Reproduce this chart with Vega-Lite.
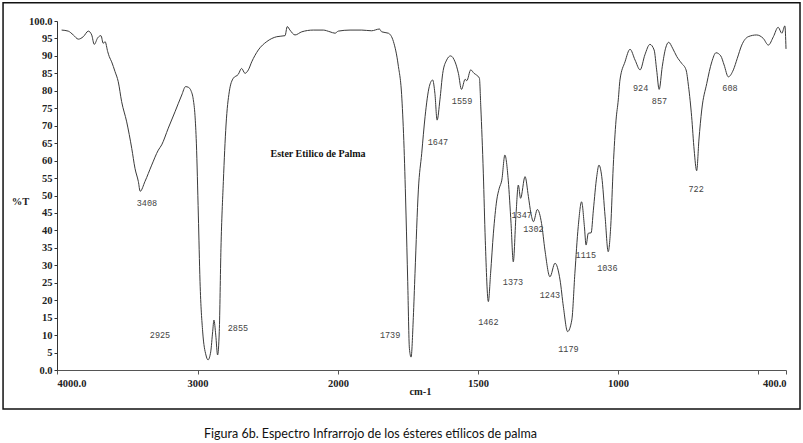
{
  "$schema": "https://vega.github.io/schema/vega-lite/v6.json",
  "width": 729,
  "height": 349,
  "autosize": {"type": "none"},
  "padding": {"left": 57, "top": 21, "right": 17, "bottom": 73},
  "background": "white",
  "config": {"view": {"stroke": null}},
  "title": {
    "text": "Figura 6b. Espectro Infrarrojo de los ésteres etílicos de palma",
    "orient": "bottom",
    "anchor": "middle",
    "frame": "group",
    "dx": -51,
    "offset": 18,
    "font": "Lato",
    "fontSize": 12.5,
    "fontWeight": "normal",
    "color": "#111"
  },
  "datasets": {
    "spectrum": [
      {"wn": 3967, "T": 97.4}, {"wn": 3920, "T": 97.1}, {"wn": 3884, "T": 96.0}, {"wn": 3848, "T": 94.8},
      {"wn": 3813, "T": 95.5}, {"wn": 3777, "T": 97.1}, {"wn": 3753, "T": 96.0}, {"wn": 3735, "T": 93.3},
      {"wn": 3710, "T": 95.2}, {"wn": 3687, "T": 95.8}, {"wn": 3671, "T": 93.6}, {"wn": 3658, "T": 94.1},
      {"wn": 3639, "T": 91.2}, {"wn": 3628, "T": 89.8}, {"wn": 3611, "T": 88.3}, {"wn": 3587, "T": 85.5},
      {"wn": 3564, "T": 82.6}, {"wn": 3540, "T": 76.9}, {"wn": 3504, "T": 71.1}, {"wn": 3468, "T": 63.5},
      {"wn": 3445, "T": 57.8}, {"wn": 3421, "T": 54.0}, {"wn": 3408, "T": 51.2}, {"wn": 3374, "T": 54.0},
      {"wn": 3326, "T": 58.7}, {"wn": 3279, "T": 63.0}, {"wn": 3255, "T": 64.5}, {"wn": 3208, "T": 69.3},
      {"wn": 3160, "T": 74.0}, {"wn": 3112, "T": 78.8}, {"wn": 3085, "T": 81.2}, {"wn": 3065, "T": 81.0},
      {"wn": 3046, "T": 80.0}, {"wn": 3030, "T": 77.5}, {"wn": 3018, "T": 73.0}, {"wn": 3008, "T": 65.0},
      {"wn": 2994, "T": 44.4}, {"wn": 2982, "T": 25.3}, {"wn": 2963, "T": 10.9}, {"wn": 2940, "T": 4.3},
      {"wn": 2925, "T": 2.9}, {"wn": 2906, "T": 5.2}, {"wn": 2892, "T": 11.0}, {"wn": 2883, "T": 14.3},
      {"wn": 2870, "T": 10.0}, {"wn": 2857, "T": 4.3}, {"wn": 2845, "T": 11.0}, {"wn": 2833, "T": 34.9},
      {"wn": 2816, "T": 54.0}, {"wn": 2797, "T": 70.2}, {"wn": 2774, "T": 79.7}, {"wn": 2745, "T": 83.6},
      {"wn": 2710, "T": 84.7}, {"wn": 2686, "T": 86.4}, {"wn": 2662, "T": 85.0}, {"wn": 2638, "T": 86.0},
      {"wn": 2614, "T": 88.3}, {"wn": 2567, "T": 91.7}, {"wn": 2507, "T": 94.1}, {"wn": 2436, "T": 95.5},
      {"wn": 2377, "T": 95.8}, {"wn": 2361, "T": 98.4}, {"wn": 2342, "T": 97.4}, {"wn": 2306, "T": 96.0},
      {"wn": 2258, "T": 96.9}, {"wn": 2176, "T": 97.4}, {"wn": 2105, "T": 97.4}, {"wn": 2057, "T": 96.9},
      {"wn": 2021, "T": 96.5}, {"wn": 1999, "T": 97.1}, {"wn": 1957, "T": 97.4}, {"wn": 1915, "T": 97.4},
      {"wn": 1880, "T": 97.2}, {"wn": 1852, "T": 97.7}, {"wn": 1844, "T": 96.9}, {"wn": 1820, "T": 96.5},
      {"wn": 1802, "T": 94.1}, {"wn": 1785, "T": 87.4}, {"wn": 1772, "T": 77.9}, {"wn": 1764, "T": 63.5},
      {"wn": 1757, "T": 44.4}, {"wn": 1751, "T": 25.3}, {"wn": 1745, "T": 6.2}, {"wn": 1739, "T": 3.7},
      {"wn": 1731, "T": 15.0}, {"wn": 1725, "T": 27.7}, {"wn": 1713, "T": 51.6}, {"wn": 1701, "T": 62.1},
      {"wn": 1689, "T": 72.6}, {"wn": 1674, "T": 81.2}, {"wn": 1662, "T": 83.1}, {"wn": 1654, "T": 79.3},
      {"wn": 1646, "T": 71.6}, {"wn": 1636, "T": 77.4}, {"wn": 1626, "T": 85.0}, {"wn": 1612, "T": 88.8},
      {"wn": 1598, "T": 90.0}, {"wn": 1582, "T": 88.3}, {"wn": 1570, "T": 85.0}, {"wn": 1559, "T": 80.4},
      {"wn": 1546, "T": 83.3}, {"wn": 1540, "T": 82.9}, {"wn": 1526, "T": 86.0}, {"wn": 1514, "T": 85.0},
      {"wn": 1505, "T": 84.5}, {"wn": 1495, "T": 83.6}, {"wn": 1490, "T": 75.4}, {"wn": 1481, "T": 56.4},
      {"wn": 1474, "T": 37.2}, {"wn": 1463, "T": 19.6}, {"wn": 1455, "T": 27.7}, {"wn": 1445, "T": 39.2},
      {"wn": 1433, "T": 48.7}, {"wn": 1424, "T": 52.1}, {"wn": 1415, "T": 54.4}, {"wn": 1404, "T": 61.6},
      {"wn": 1392, "T": 54.4}, {"wn": 1382, "T": 42.0}, {"wn": 1374, "T": 31.0}, {"wn": 1364, "T": 44.9},
      {"wn": 1356, "T": 53.0}, {"wn": 1348, "T": 49.2}, {"wn": 1332, "T": 55.4}, {"wn": 1320, "T": 49.7},
      {"wn": 1311, "T": 44.9}, {"wn": 1302, "T": 42.5}, {"wn": 1288, "T": 46.0}, {"wn": 1273, "T": 42.0},
      {"wn": 1261, "T": 34.4}, {"wn": 1243, "T": 26.7}, {"wn": 1225, "T": 30.6}, {"wn": 1207, "T": 25.8},
      {"wn": 1195, "T": 18.1}, {"wn": 1180, "T": 11.0}, {"wn": 1165, "T": 14.3}, {"wn": 1154, "T": 27.7},
      {"wn": 1142, "T": 41.1}, {"wn": 1130, "T": 48.2}, {"wn": 1120, "T": 41.1}, {"wn": 1114, "T": 35.8},
      {"wn": 1106, "T": 39.2}, {"wn": 1096, "T": 39.3}, {"wn": 1088, "T": 45.8}, {"wn": 1076, "T": 55.4},
      {"wn": 1068, "T": 58.7}, {"wn": 1058, "T": 55.4}, {"wn": 1046, "T": 43.9}, {"wn": 1035, "T": 33.9},
      {"wn": 1026, "T": 41.1}, {"wn": 1017, "T": 58.3}, {"wn": 1007, "T": 71.6}, {"wn": 999, "T": 77.4},
      {"wn": 993, "T": 83.1}, {"wn": 975, "T": 88.3}, {"wn": 957, "T": 91.9}, {"wn": 939, "T": 88.8},
      {"wn": 921, "T": 86.0}, {"wn": 904, "T": 90.3}, {"wn": 886, "T": 93.3}, {"wn": 871, "T": 91.7},
      {"wn": 862, "T": 86.0}, {"wn": 853, "T": 80.4}, {"wn": 842, "T": 86.9}, {"wn": 830, "T": 92.2},
      {"wn": 819, "T": 93.9}, {"wn": 805, "T": 92.2}, {"wn": 790, "T": 89.8}, {"wn": 773, "T": 87.9},
      {"wn": 757, "T": 86.0}, {"wn": 748, "T": 81.2}, {"wn": 737, "T": 72.6}, {"wn": 728, "T": 63.0},
      {"wn": 719, "T": 57.1}, {"wn": 711, "T": 65.9}, {"wn": 701, "T": 74.5}, {"wn": 683, "T": 82.1},
      {"wn": 665, "T": 88.3}, {"wn": 650, "T": 90.9}, {"wn": 633, "T": 90.0}, {"wn": 621, "T": 87.4},
      {"wn": 606, "T": 84.0}, {"wn": 588, "T": 86.0}, {"wn": 574, "T": 89.3}, {"wn": 558, "T": 93.1},
      {"wn": 535, "T": 95.5}, {"wn": 505, "T": 96.0}, {"wn": 481, "T": 95.0}, {"wn": 463, "T": 93.1},
      {"wn": 445, "T": 95.5}, {"wn": 428, "T": 98.2}, {"wn": 415, "T": 96.5}, {"wn": 404, "T": 98.6},
      {"wn": 400, "T": 92.0}
    ],
    "peaks": [
      {"label": "3408", "wn": 3360, "T": 47.9},
      {"label": "2925", "wn": 3267, "T": 10.0},
      {"label": "2855", "wn": 2712, "T": 12.0},
      {"label": "1739", "wn": 1814, "T": 10.0},
      {"label": "1647", "wn": 1643, "T": 65.3},
      {"label": "1559", "wn": 1557, "T": 77.1},
      {"label": "1462", "wn": 1463, "T": 13.8},
      {"label": "1373", "wn": 1375, "T": 25.2},
      {"label": "1347", "wn": 1344, "T": 44.4},
      {"label": "1302", "wn": 1302, "T": 40.4},
      {"label": "1243", "wn": 1243, "T": 21.5},
      {"label": "1179", "wn": 1177, "T": 6.0},
      {"label": "1115", "wn": 1115, "T": 33.0},
      {"label": "1036", "wn": 1038, "T": 29.1},
      {"label": "924", "wn": 919, "T": 80.7},
      {"label": "857", "wn": 852, "T": 77.1},
      {"label": "722", "wn": 721, "T": 51.9},
      {"label": "608", "wn": 600, "T": 80.7}
    ]
  },
  "layer": [
    {
      "data": {"name": "spectrum"},
      "mark": {"type": "line", "color": "#3a3a3a", "strokeWidth": 1, "interpolate": "monotone"},
      "encoding": {
        "x": {
          "field": "wn", "type": "quantitative",
          "scale": {"domain": [4000, 2000, 400], "range": [0, 281, 729], "nice": false, "zero": false},
          "axis": {
            "values": [4000, 3000, 2000, 1500, 1000, 500, 400],
            "format": "d",
            "labelExpr": "datum.value == 4000 ? '4000.0' : datum.value == 400 ? '400.0' : datum.value == 500 ? '' : datum.label",
            "labelFont": "Liberation Serif", "labelFontWeight": "bold", "labelFontSize": 10.5, "labelColor": "#222",
            "labelPadding": 4, "labelOverlap": false,
            "domainColor": "#555", "tickColor": "#555", "tickSize": 4, "grid": false,
            "title": "cm-1", "titleFont": "Liberation Serif", "titleFontWeight": "bold", "titleFontSize": 10.5,
            "titleColor": "#222", "titleX": 363, "titleY": 21, "titleAlign": "center", "titleBaseline": "middle"
          }
        },
        "y": {
          "field": "T", "type": "quantitative",
          "scale": {"domain": [0, 100], "nice": false, "zero": false},
          "axis": {
            "values": [0, 5, 10, 15, 20, 25, 30, 35, 40, 45, 50, 55, 60, 65, 70, 75, 80, 85, 90, 95, 100],
            "format": "d",
            "labelExpr": "datum.value == 100 ? '100.0' : datum.value == 0 ? '0.0' : datum.label",
            "labelFont": "Liberation Serif", "labelFontWeight": "bold", "labelFontSize": 10.5, "labelColor": "#222",
            "labelPadding": 2, "labelOverlap": false,
            "domainColor": "#333", "tickColor": "#333", "tickSize": 3, "grid": false,
            "title": "%T", "titleAngle": 0, "titleFont": "Liberation Serif", "titleFontWeight": "bold", "titleFontSize": 10.5,
            "titleColor": "#222", "titleX": -37, "titleY": 180, "titleAlign": "center", "titleBaseline": "middle"
          }
        }
      }
    },
    {
      "data": {"name": "peaks"},
      "mark": {"type": "text", "font": "Liberation Mono", "fontSize": 8.5, "color": "#444", "align": "center", "baseline": "middle"},
      "encoding": {
        "x": {
          "field": "wn", "type": "quantitative",
          "scale": {"domain": [4000, 2000, 400], "range": [0, 281, 729], "nice": false, "zero": false},
          "axis": {
            "values": [4000, 3000, 2000, 1500, 1000, 500, 400],
            "format": "d",
            "labelExpr": "datum.value == 4000 ? '4000.0' : datum.value == 400 ? '400.0' : datum.value == 500 ? '' : datum.label",
            "labelFont": "Liberation Serif", "labelFontWeight": "bold", "labelFontSize": 10.5, "labelColor": "#222",
            "labelPadding": 4, "labelOverlap": false,
            "domainColor": "#555", "tickColor": "#555", "tickSize": 4, "grid": false,
            "title": "cm-1", "titleFont": "Liberation Serif", "titleFontWeight": "bold", "titleFontSize": 10.5,
            "titleColor": "#222", "titleX": 363, "titleY": 21, "titleAlign": "center", "titleBaseline": "middle"
          }
        },
        "y": {
          "field": "T", "type": "quantitative",
          "scale": {"domain": [0, 100], "nice": false, "zero": false},
          "axis": {
            "values": [0, 5, 10, 15, 20, 25, 30, 35, 40, 45, 50, 55, 60, 65, 70, 75, 80, 85, 90, 95, 100],
            "format": "d",
            "labelExpr": "datum.value == 100 ? '100.0' : datum.value == 0 ? '0.0' : datum.label",
            "labelFont": "Liberation Serif", "labelFontWeight": "bold", "labelFontSize": 10.5, "labelColor": "#222",
            "labelPadding": 2, "labelOverlap": false,
            "domainColor": "#333", "tickColor": "#333", "tickSize": 3, "grid": false,
            "title": "%T", "titleAngle": 0, "titleFont": "Liberation Serif", "titleFontWeight": "bold", "titleFontSize": 10.5,
            "titleColor": "#222", "titleX": -37, "titleY": 180, "titleAlign": "center", "titleBaseline": "middle"
          }
        },
        "text": {"field": "label"}
      }
    },
    {
      "data": {"values": [{"text": "Ester Etilico de Palma", "wn": 2142, "T": 61.9}]},
      "mark": {"type": "text", "font": "Liberation Serif", "fontWeight": "bold", "fontSize": 10, "color": "#111", "align": "center", "baseline": "middle"},
      "encoding": {
        "x": {
          "field": "wn", "type": "quantitative",
          "scale": {"domain": [4000, 2000, 400], "range": [0, 281, 729], "nice": false, "zero": false},
          "axis": {
            "values": [4000, 3000, 2000, 1500, 1000, 500, 400],
            "format": "d",
            "labelExpr": "datum.value == 4000 ? '4000.0' : datum.value == 400 ? '400.0' : datum.value == 500 ? '' : datum.label",
            "labelFont": "Liberation Serif", "labelFontWeight": "bold", "labelFontSize": 10.5, "labelColor": "#222",
            "labelPadding": 4, "labelOverlap": false,
            "domainColor": "#555", "tickColor": "#555", "tickSize": 4, "grid": false,
            "title": "cm-1", "titleFont": "Liberation Serif", "titleFontWeight": "bold", "titleFontSize": 10.5,
            "titleColor": "#222", "titleX": 363, "titleY": 21, "titleAlign": "center", "titleBaseline": "middle"
          }
        },
        "y": {
          "field": "T", "type": "quantitative",
          "scale": {"domain": [0, 100], "nice": false, "zero": false},
          "axis": {
            "values": [0, 5, 10, 15, 20, 25, 30, 35, 40, 45, 50, 55, 60, 65, 70, 75, 80, 85, 90, 95, 100],
            "format": "d",
            "labelExpr": "datum.value == 100 ? '100.0' : datum.value == 0 ? '0.0' : datum.label",
            "labelFont": "Liberation Serif", "labelFontWeight": "bold", "labelFontSize": 10.5, "labelColor": "#222",
            "labelPadding": 2, "labelOverlap": false,
            "domainColor": "#333", "tickColor": "#333", "tickSize": 3, "grid": false,
            "title": "%T", "titleAngle": 0, "titleFont": "Liberation Serif", "titleFontWeight": "bold", "titleFontSize": 10.5,
            "titleColor": "#222", "titleX": -37, "titleY": 180, "titleAlign": "center", "titleBaseline": "middle"
          }
        },
        "text": {"field": "text"}
      }
    },
    {
      "data": {"values": [{}]},
      "mark": {"type": "rect", "fill": null, "stroke": "#111", "strokeWidth": 1.5},
      "encoding": {
        "x": {
          "datum": 4384, "type": "quantitative",
          "scale": {"domain": [4000, 2000, 400], "range": [0, 281, 729], "nice": false, "zero": false},
          "axis": {
            "values": [4000, 3000, 2000, 1500, 1000, 500, 400],
            "format": "d",
            "labelExpr": "datum.value == 4000 ? '4000.0' : datum.value == 400 ? '400.0' : datum.value == 500 ? '' : datum.label",
            "labelFont": "Liberation Serif", "labelFontWeight": "bold", "labelFontSize": 10.5, "labelColor": "#222",
            "labelPadding": 4, "labelOverlap": false,
            "domainColor": "#555", "tickColor": "#555", "tickSize": 4, "grid": false,
            "title": "cm-1", "titleFont": "Liberation Serif", "titleFontWeight": "bold", "titleFontSize": 10.5,
            "titleColor": "#222", "titleX": 363, "titleY": 21, "titleAlign": "center", "titleBaseline": "middle"
          }
        },
        "x2": {"datum": 350},
        "y": {
          "datum": 105.2, "type": "quantitative",
          "scale": {"domain": [0, 100], "nice": false, "zero": false},
          "axis": {
            "values": [0, 5, 10, 15, 20, 25, 30, 35, 40, 45, 50, 55, 60, 65, 70, 75, 80, 85, 90, 95, 100],
            "format": "d",
            "labelExpr": "datum.value == 100 ? '100.0' : datum.value == 0 ? '0.0' : datum.label",
            "labelFont": "Liberation Serif", "labelFontWeight": "bold", "labelFontSize": 10.5, "labelColor": "#222",
            "labelPadding": 2, "labelOverlap": false,
            "domainColor": "#333", "tickColor": "#333", "tickSize": 3, "grid": false,
            "title": "%T", "titleAngle": 0, "titleFont": "Liberation Serif", "titleFontWeight": "bold", "titleFontSize": 10.5,
            "titleColor": "#222", "titleX": -37, "titleY": 180, "titleAlign": "center", "titleBaseline": "middle"
          }
        },
        "y2": {"datum": -11.2}
      }
    }
  ]
}
